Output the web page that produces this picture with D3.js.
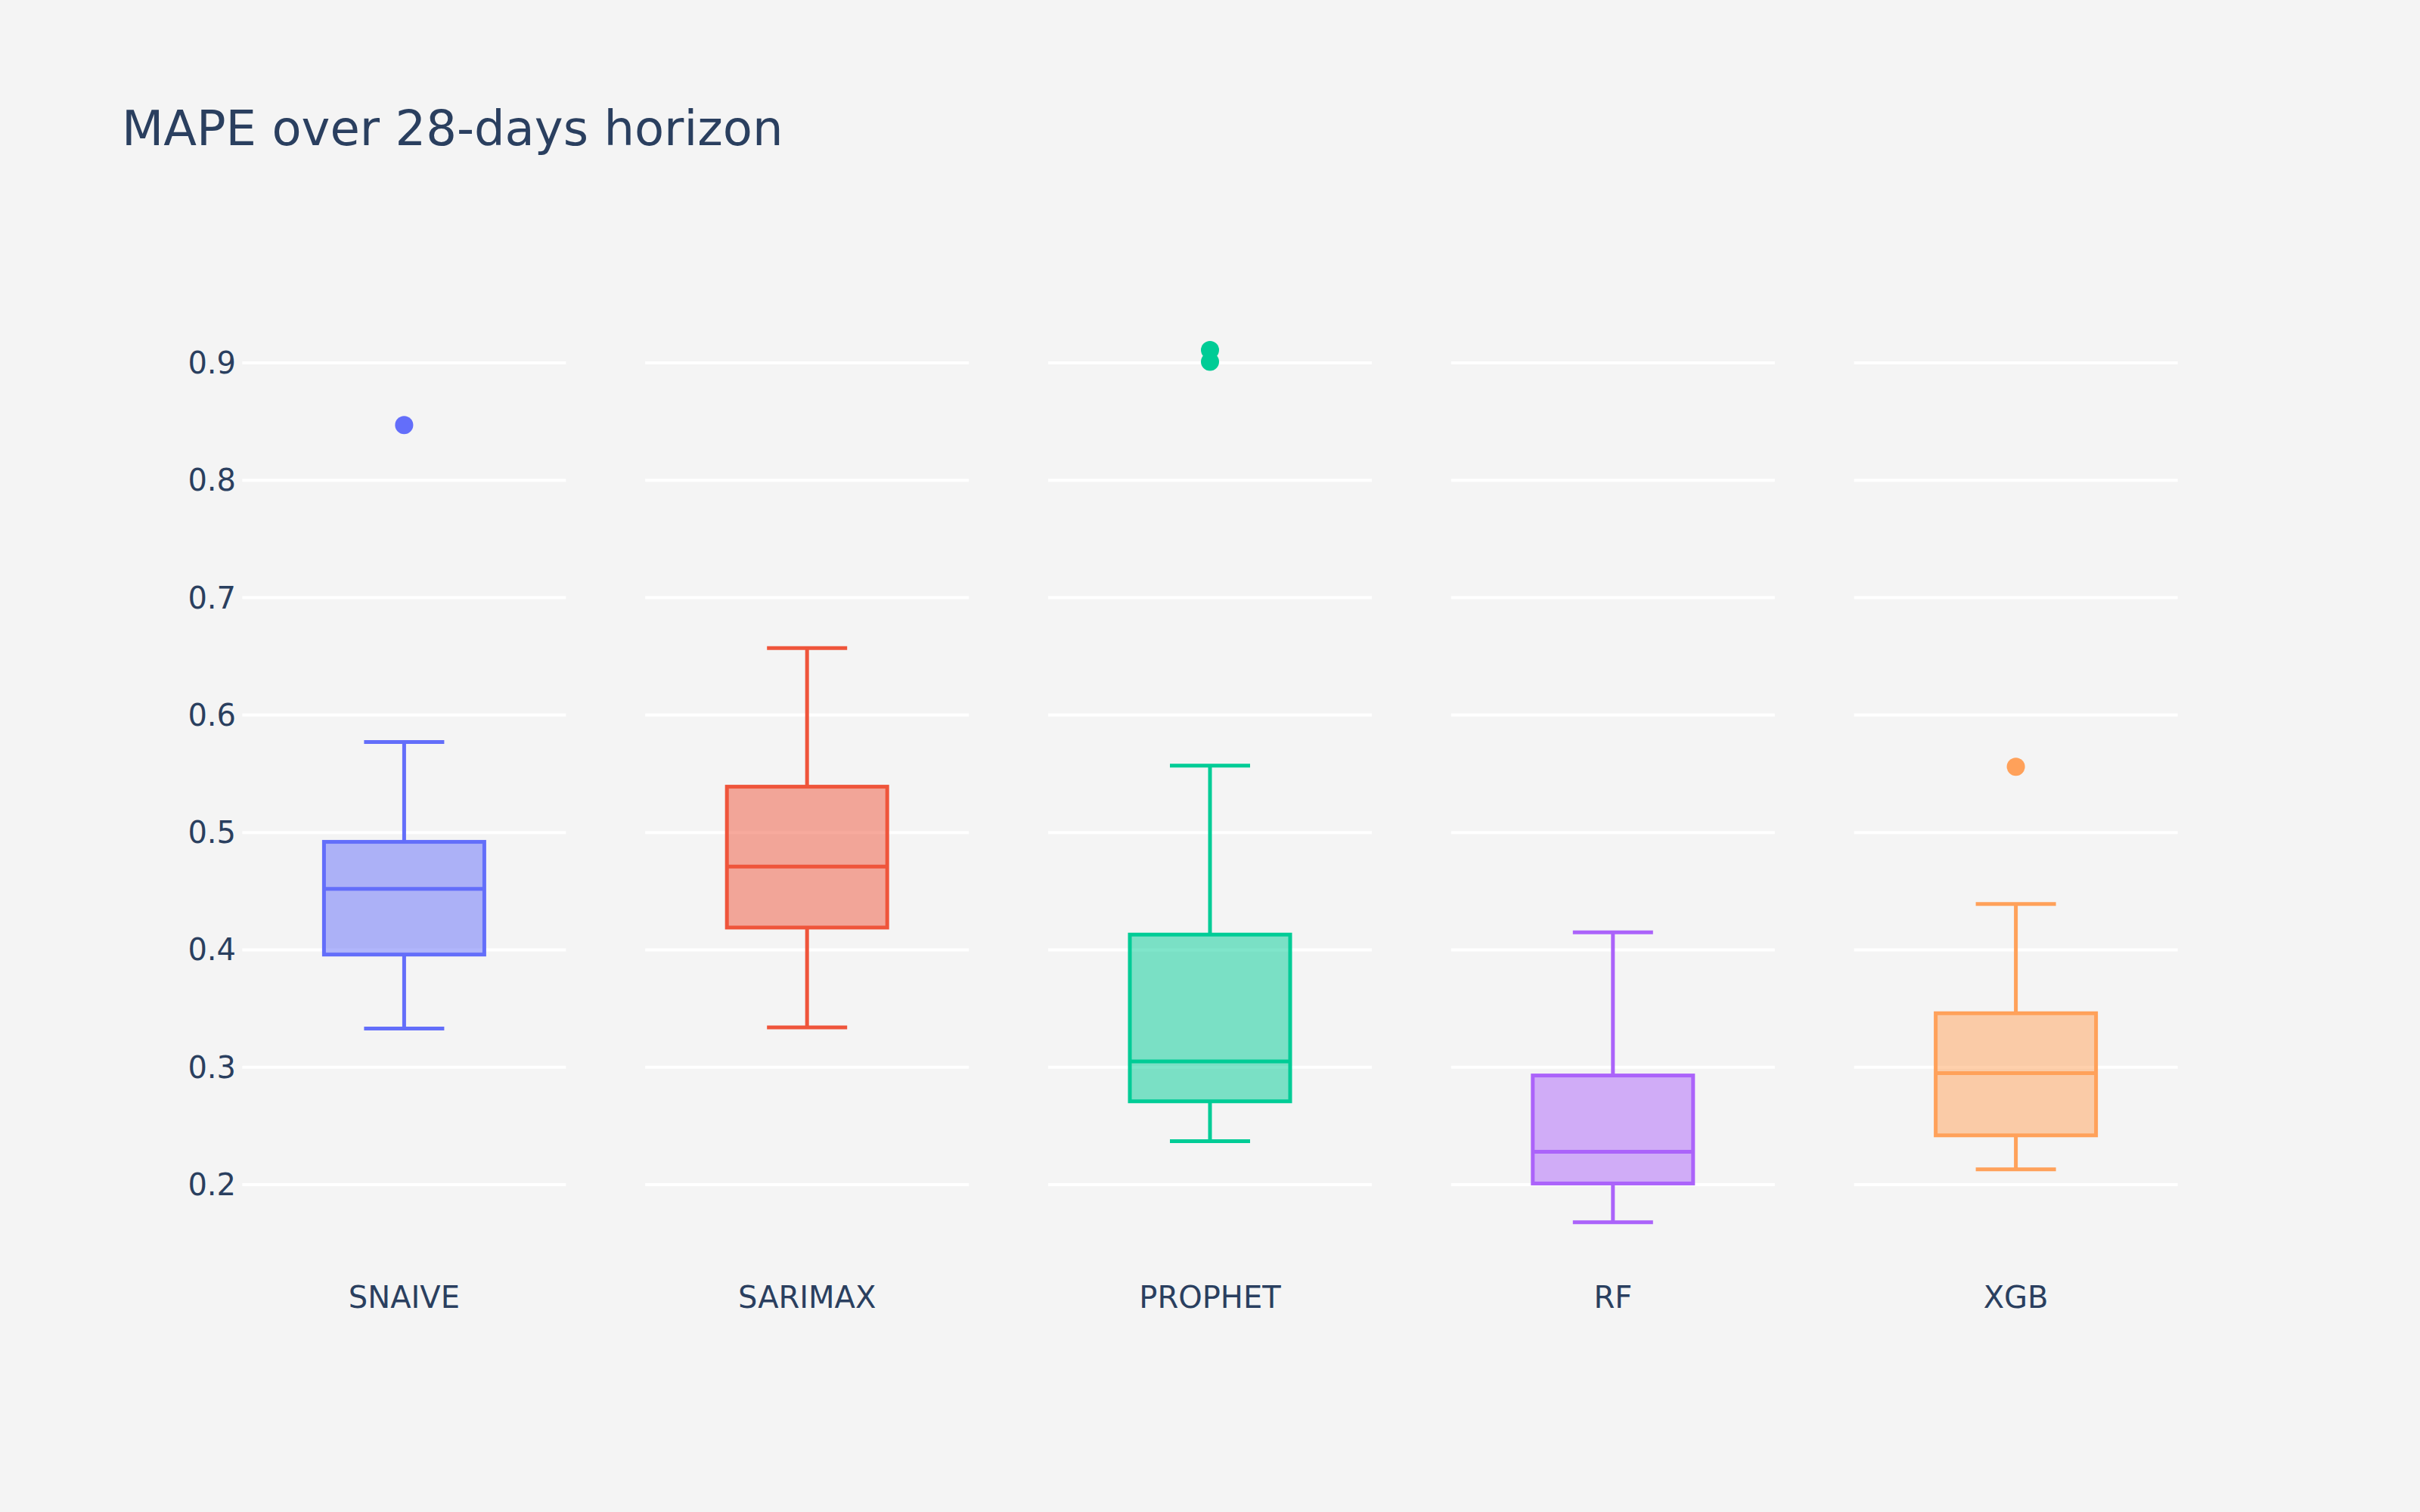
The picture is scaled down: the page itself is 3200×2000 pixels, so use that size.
<!DOCTYPE html>
<html><head><meta charset="utf-8">
<script src="https://cdn.jsdelivr.net/npm/d3@7"></script>
<style>body{margin:0;background:#f4f4f4}</style>
</head><body>
<script>
// box stats
const models = ["SNAIVE", "SARIMAX", "PROPHET", "RF", "XGB"];
const colors = ["#636efa", "#EF553B", "#00cc96", "#ab63fa", "#FFA15A"];
const lower = [0.333, 0.334, 0.237, 0.168, 0.213];
const q1 = [0.396, 0.419, 0.271, 0.201, 0.242];
const median = [0.452, 0.471, 0.305, 0.228, 0.295];
const q3 = [0.492, 0.539, 0.413, 0.293, 0.346];
const upper = [0.577, 0.657, 0.557, 0.415, 0.439];
const outliers = [[0.847], [], [0.911, 0.901], [], [0.556]];
const yTicks = [0.2, 0.3, 0.4, 0.5, 0.6, 0.7, 0.8, 0.9];

const W = 3200, H = 2000;
const font = "'DejaVu Sans', sans-serif", ink = "#2a3f5f";

const svg = d3.select("body").append("svg").attr("width", W).attr("height", H)
  .style("font-family", font);
svg.append("rect").attr("width", W).attr("height", H).attr("fill", "#f4f4f4");

const x = d3.scaleBand().domain(models).range([268, 2932]);
const y = d3.scaleLinear().domain([0.2, 0.9]).range([1567, 480]);

svg.append("text").attr("x", 161).attr("y", 192).attr("fill", ink)
  .style("font-size", "64px").text("MAPE over 28-days horizon");

// gridlines, broken per category
models.forEach(m => {
  const cx = x(m) + x.bandwidth() / 2;
  svg.append("g").selectAll("line").data(yTicks).join("line")
    .attr("x1", cx - 214).attr("x2", cx + 214)
    .attr("y1", d => y(d)).attr("y2", d => y(d))
    .attr("stroke", "#fff").attr("stroke-width", 4);
});

svg.append("g").selectAll("text").data(yTicks).join("text")
  .attr("x", 312).attr("y", d => y(d)).attr("dy", "0.35em")
  .attr("text-anchor", "end").attr("fill", ink).style("font-size", "40px")
  .text(d => d.toFixed(1));

svg.append("g").selectAll("text").data(models).join("text")
  .attr("x", d => x(d) + x.bandwidth() / 2).attr("y", 1730)
  .attr("text-anchor", "middle").attr("fill", ink).style("font-size", "40px")
  .text(d => d);

const bw = 212, cw = 106, sw = 5;
models.forEach((m, i) => {
  const cx = x(m) + x.bandwidth() / 2, c = colors[i];
  const g = svg.append("g").attr("stroke", c).attr("stroke-width", sw).attr("fill", "none");
  g.append("line").attr("x1", cx).attr("x2", cx).attr("y1", y(upper[i])).attr("y2", y(q3[i]));
  g.append("line").attr("x1", cx).attr("x2", cx).attr("y1", y(q1[i])).attr("y2", y(lower[i]));
  g.append("line").attr("x1", cx - cw / 2).attr("x2", cx + cw / 2).attr("y1", y(upper[i])).attr("y2", y(upper[i]));
  g.append("line").attr("x1", cx - cw / 2).attr("x2", cx + cw / 2).attr("y1", y(lower[i])).attr("y2", y(lower[i]));
  g.append("rect").attr("x", cx - bw / 2).attr("width", bw)
    .attr("y", y(q3[i])).attr("height", y(q1[i]) - y(q3[i]))
    .attr("fill", c).attr("fill-opacity", 0.5);
  g.append("line").attr("x1", cx - bw / 2).attr("x2", cx + bw / 2).attr("y1", y(median[i])).attr("y2", y(median[i]));
  svg.append("g").selectAll("circle").data(outliers[i]).join("circle")
    .attr("cx", cx).attr("cy", d => y(d)).attr("r", 12).attr("fill", c);
});
</script>
</body></html>
